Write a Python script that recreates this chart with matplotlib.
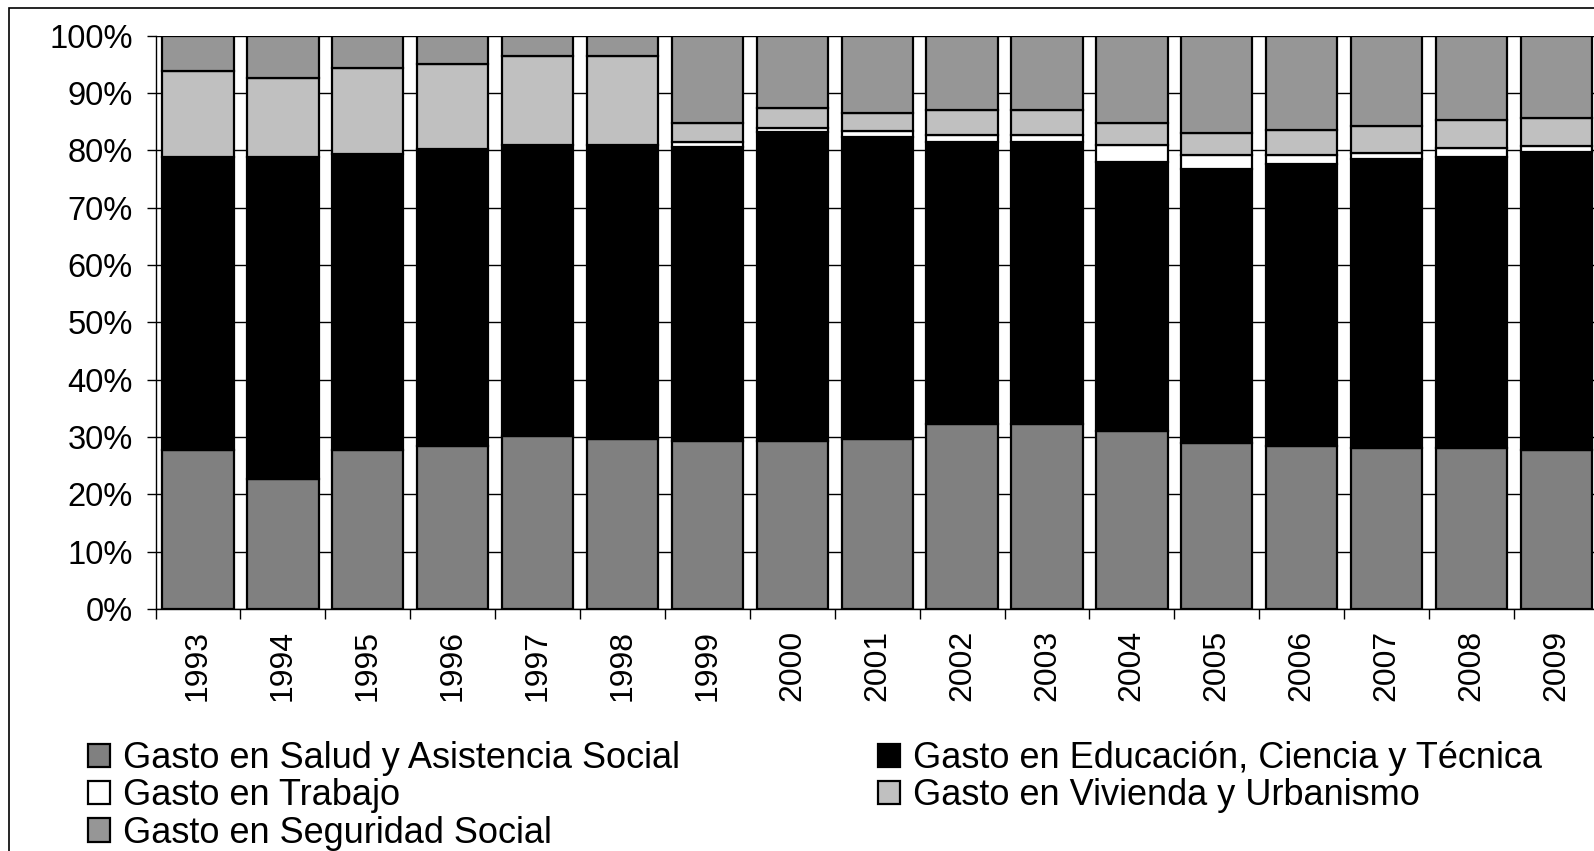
import matplotlib
matplotlib.use("Agg")
import matplotlib.pyplot as plt
import numpy as np
from matplotlib.patches import Rectangle

plt.rcParams['font.family'] = ['Liberation Sans', 'DejaVu Sans']

years = ['1993', '1994', '1995', '1996', '1997', '1998', '1999', '2000', '2001',
         '2002', '2003', '2004', '2005', '2006', '2007', '2008', '2009']

# shares in percent
salud = [27.7, 22.7, 27.7, 28.5, 30.1, 29.7, 29.3, 29.3, 29.7,
         32.2, 32.2, 31.0, 28.9, 28.5, 28.1, 28.1, 27.7]
educacion = [51.1, 56.1, 51.7, 51.7, 50.9, 51.2, 51.3, 53.9, 52.6,
             49.2, 49.2, 47.0, 47.8, 49.1, 50.4, 50.8, 52.0]
trabajo = [0.0, 0.0, 0.0, 0.0, 0.0, 0.0, 0.8, 0.7, 1.0,
           1.2, 1.2, 2.9, 2.4, 1.5, 1.0, 1.5, 1.1]
vivienda = [15.1, 13.8, 14.9, 14.9, 15.5, 15.6, 3.4, 3.4, 3.2,
            4.4, 4.4, 3.9, 3.9, 4.4, 4.8, 4.8, 4.8]
seguridad = [6.1, 7.4, 5.7, 4.9, 3.5, 3.5, 15.2, 12.7, 13.5,
             13.0, 13.0, 15.2, 17.0, 16.5, 15.7, 14.8, 14.4]

labels = ['Gasto en Salud y Asistencia Social',
          'Gasto en Educación, Ciencia y Técnica',
          'Gasto en Trabajo',
          'Gasto en Vivienda y Urbanismo',
          'Gasto en Seguridad Social']
colors = ['#808080', '#000000', '#ffffff', '#c0c0c0', '#969696']

series = np.array([salud, educacion, trabajo, vivienda, seguridad])
series = series / series.sum(axis=0) * 100  # 100% stacked

fig = plt.figure(figsize=(15.94, 8.51), dpi=100)
ax = fig.add_axes([0.0976, 0.2844, 0.9054, 0.6738])

x = np.arange(len(years))
bottom = np.zeros(len(years))
handles = []
for vals, lab, col in zip(series, labels, colors):
    h = ax.bar(x, vals, 0.84, bottom=bottom, color=col, edgecolor='black',
               linewidth=1.6, label=lab, zorder=3)
    handles.append(h)
    bottom += vals

ax.set_xlim(-0.5, len(years) - 0.5)
ax.set_ylim(0, 100)
ax.set_yticks(np.arange(0, 101, 10))
ax.set_yticklabels([f'{v}%' for v in range(0, 101, 10)], fontsize=23.5)
ax.yaxis.grid(True, color='black', linewidth=1.0, zorder=0)
ax.set_axisbelow(True)

ax.set_xticks(x)
ax.set_xticklabels(years, rotation=90, fontsize=23)
ax.set_xticks(np.arange(-0.5, len(years), 1), minor=True)
ax.tick_params(axis='x', which='major', length=0, pad=15)
ax.tick_params(axis='x', which='minor', length=7, width=1, direction='out')
ax.tick_params(axis='y', length=6.5, width=1, pad=10)

for s in ['top', 'right']:
    ax.spines[s].set_visible(False)
ax.spines['left'].set_linewidth(1.0)
ax.spines['bottom'].set_linewidth(1.0)

# legend: row order Salud | Educación, Trabajo | Vivienda, Seguridad
order = [0, 2, 4, 1, 3]
fig.legend([handles[i] for i in order], [labels[i] for i in order],
           loc='upper left', bbox_to_anchor=(0.0552, 0.129), ncol=2,
           frameon=False, fontsize=26, handlelength=0.6, handleheight=0.62,
           handletextpad=0.36, labelspacing=0.06, columnspacing=5.5,
           borderaxespad=0, borderpad=0)

# outer chart frame (cut off at right and bottom)
fig.patches.append(Rectangle((0.0056, -0.1), 1.2, 1.0902, fill=False,
                             edgecolor='black', linewidth=1.2,
                             transform=fig.transFigure, clip_on=False))

fig.savefig('out.png', dpi=100)
